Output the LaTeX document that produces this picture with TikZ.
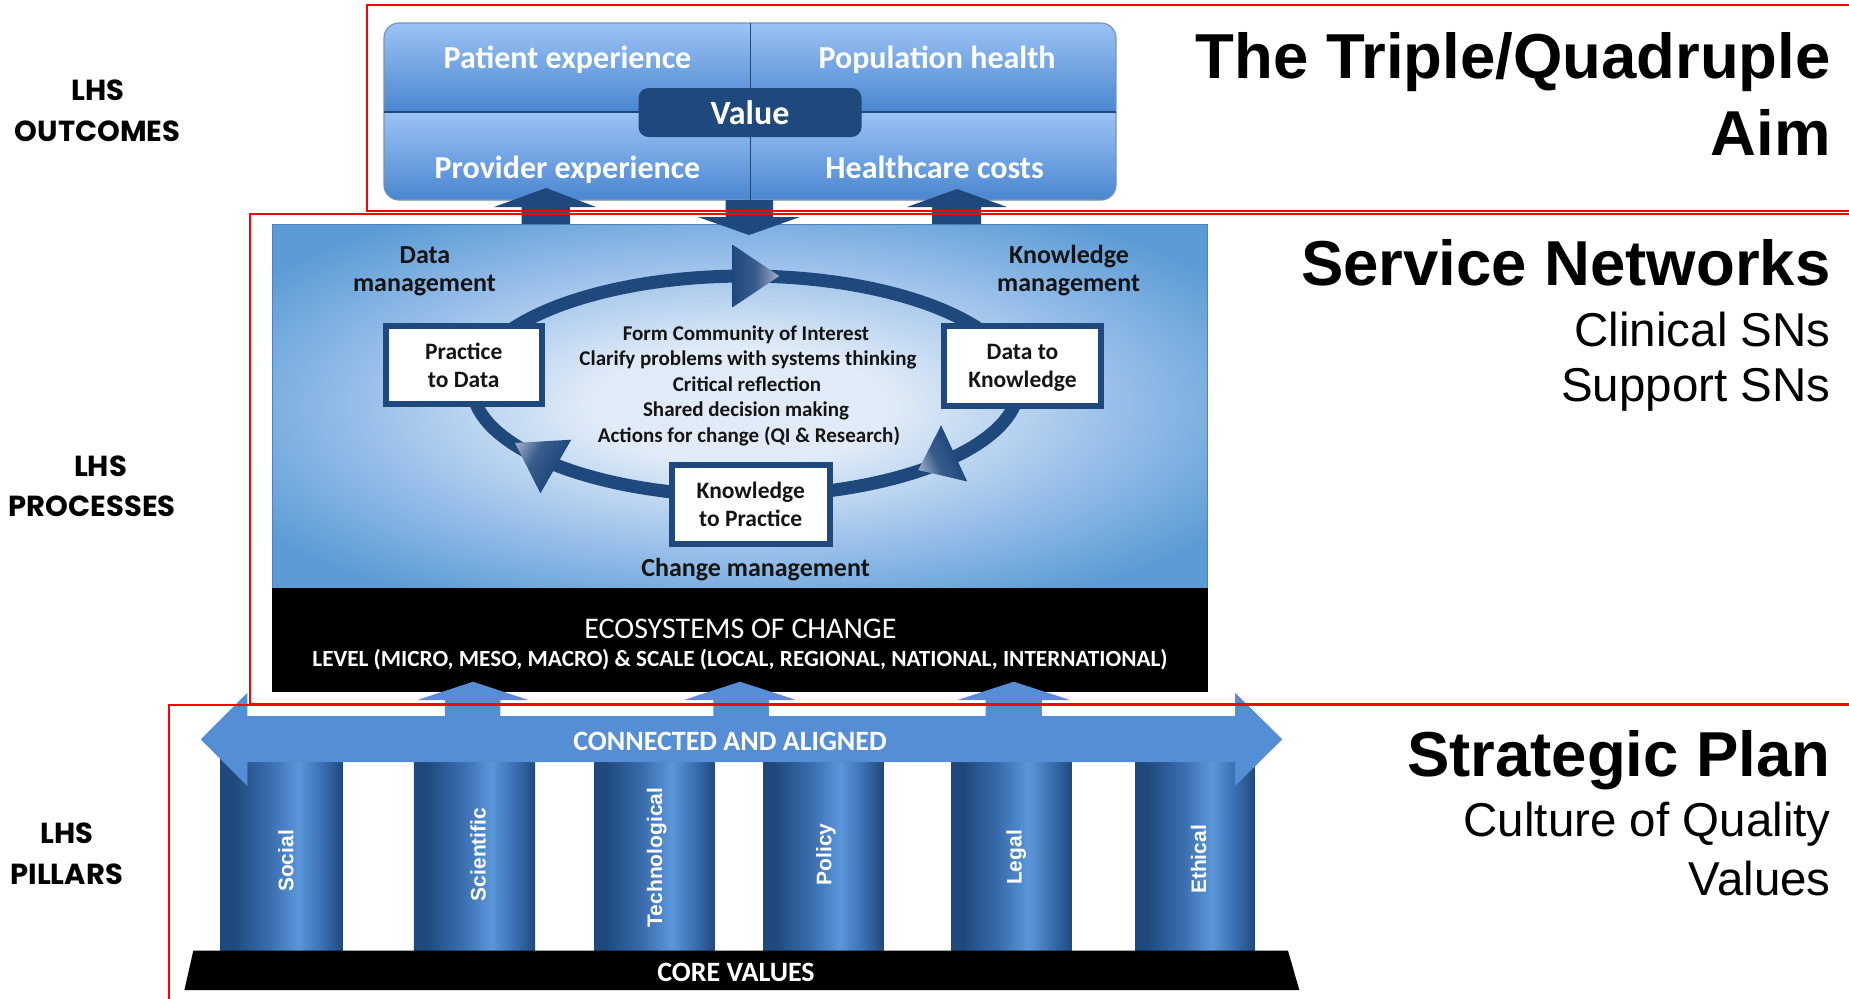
\documentclass[tikz,border=0pt]{standalone}
\usepackage{fontspec}
\setmainfont{Carlito}
\newfontfamily\arialf{Liberation Sans}
\newfontfamily\gothicf{Poppins}
\definecolor{dblue}{HTML}{1F497D}
\definecolor{mblue}{HTML}{558ED5}
\definecolor{tipc}{HTML}{A3B2C7}
\definecolor{plight}{HTML}{E0EBF7}
\definecolor{pmid}{HTML}{93BCE8}
\definecolor{pedge}{HTML}{5B9BD5}
\definecolor{otop}{HTML}{9CC3F5}
\definecolor{obot}{HTML}{4A86D0}
\definecolor{pillight}{HTML}{5B97DA}
\definecolor{pilmid}{HTML}{3A6DAE}
\definecolor{txt}{HTML}{141414}
\definecolor{redc}{HTML}{FF0000}
\definecolor{pborder}{HTML}{4F81BD}

\pgfdeclareradialshading{panelshade}{\pgfpoint{0bp}{0bp}}{color(0bp)=(plight); color(8bp)=(plight); color(21bp)=(pmid); color(31bp)=(pedge); color(50bp)=(pedge)}
\pgfdeclarehorizontalshading{pillarshade}{100bp}{color(0bp)=(dblue); color(30bp)=(dblue); color(45bp)=(pilmid); color(57bp)=(pillight); color(67bp)=(pilmid); color(75bp)=(dblue); color(100bp)=(dblue)}

\tikzset{
  outtext/.style={anchor=base, inner sep=0pt, text=white, font=\bfseries\fontsize{16}{19}\selectfont},
  valuebox/.style={fill=dblue, rounded corners=5pt, inner sep=0pt, text=white, font=\bfseries\fontsize{17}{20}\selectfont},
  sidelabel/.style={anchor=base, inner sep=0pt, text=black, font=\gothicf\bfseries\fontsize{14.5}{17}\selectfont},
  bigtitle/.style={anchor=base east, inner sep=0pt, text=black, font=\arialf\bfseries\fontsize{31.75}{38}\selectfont},
  subtitle/.style={anchor=base east, inner sep=0pt, text=black, font=\arialf\fontsize{23.75}{28}\selectfont},
  panellabel/.style={anchor=base, inner sep=0pt, text=txt, font=\bfseries\fontsize{13}{15}\selectfont},
  centertext/.style={anchor=base, inner sep=0pt, text=txt, font=\bfseries\fontsize{10.5}{12.8}\selectfont},
  cyclebox/.style={draw=dblue, line width=3pt, fill=white, inner sep=0pt, align=center, text=txt, font=\bfseries\fontsize{11.75}{14}\selectfont, text depth=0pt},
  ecotext/.style={anchor=base, inner sep=0pt, text=white},
  whitebold/.style={anchor=base, inner sep=0pt, text=white, font=\bfseries\fontsize{14}{16}\selectfont},
  pillartext/.style={rotate=90, inner sep=0pt, text=white, font=\arialf\bfseries\fontsize{10.5}{12}\selectfont},
  darkarrow/.style={fill=dblue},
  bluearrow/.style={fill=mblue},
  redframe/.style={draw=redc, line width=1pt},
  ringhead/.style={left color=dblue, right color=tipc, middle color=dblue!80!tipc}
}

\begin{document}
\begin{tikzpicture}[x=0.5pt,y=-0.5pt]
\fill[white] (0,0) rectangle (1849,998);
\useasboundingbox (0,0) rectangle (1849,998);

% ---------- outcomes box ----------
\begin{scope}
\clip[rounded corners=7.5pt] (384,23) rectangle (1116,200);
\shade[top color=otop,bottom color=obot] (384,23) rectangle (1116,112);
\shade[top color=otop,bottom color=obot] (384,112) rectangle (1116,200);
\end{scope}
\draw[line width=0.6pt, draw=dblue!60, rounded corners=7.5pt] (384,23) rectangle (1116,200);
\draw[line width=0.6pt, dblue] (750.5,23) -- (750.5,200);
\draw[line width=0.6pt, dblue] (384,112) -- (1116,112);
\node[valuebox, minimum width=111.5pt, minimum height=24.5pt] (value) at (750,112.5) {Value};
\node[outtext] (patexp) at (567.5,68.3) {Patient experience};
\node[outtext] (pophealth) at (937,68.3) {Population health};
\node[outtext] (provexp) at (567.5,178) {Provider experience};
\node[outtext] (hccost) at (934.6,178) {Healthcare costs};

% ---------- processes panel ----------
\shade[shading=panelshade] (272,224) rectangle (1207.5,588);
\draw[pborder, line width=0.5pt] (272,224) rectangle (1207.5,588);
\fill[black] (272,588) rectangle (1207.5,692);

% arrows between outcomes and processes
\fill[darkarrow] (521.7,224) -- (521.7,207) -- (494,207) -- (546,188) -- (596,207) -- (570,207) -- (570,224) -- cycle;
\fill[darkarrow] (725.7,200) -- (773,200) -- (773,217) -- (800,217) -- (749,235) -- (698,217) -- (725.7,217) -- cycle;
\fill[darkarrow] (932,224) -- (932,207) -- (907,207) -- (957,189) -- (1007,207) -- (981,207) -- (981,224) -- cycle;

% cycle ring
\draw[dblue, line width=6.5pt] (745.5,386) ellipse [x radius=273, y radius=110];
\begin{scope}[transform canvas={shift={(779.3,276)}, rotate=0}]
  \shade[ringhead] (0,0) -- (-46.6,31.15) -- (-46.6,-31.15) -- cycle;
\end{scope}
\begin{scope}[transform canvas={shift={(515,443)}, rotate=150.1}]
  \shade[ringhead] (0,0) -- (-47.1,30.9) -- (-47.1,-30.9) -- cycle;
\end{scope}
\begin{scope}[transform canvas={shift={(918.3,470)}, rotate=204.9}]
  \shade[ringhead] (0,0) -- (-39.5,31) -- (-39.5,-31) -- cycle;
\end{scope}

\node[cyclebox, minimum width=78.25pt, minimum height=39pt] (p2d) at (463.75,365) {Practice\\to Data};
\node[cyclebox, minimum width=78.5pt, minimum height=40pt] (d2k) at (1022.5,366) {Data to\\Knowledge};
\node[cyclebox, minimum width=78.75pt, minimum height=39.5pt] (k2p) at (750.75,504.5) {Knowledge\\to Practice};

\node[centertext] (c1) at (746,340) {Form Community of Interest};
\node[centertext] (c2) at (748,365.3) {Clarify problems with systems thinking};
\node[centertext] (c3) at (747,391.2) {Critical reflection};
\node[centertext] (c4) at (746,416.7) {Shared decision making};
\node[centertext] (c5) at (749,442.7) {Actions for change (QI \& Research)};

\node[panellabel] (dm1) at (425,263.3) {Data};
\node[panellabel] (dm2) at (424.5,291.7) {management};
\node[panellabel] (km1) at (1069,263.3) {Knowledge};
\node[panellabel] (km2) at (1068.6,291.7) {management};
\node[panellabel] (cm) at (755.6,576) {Change management};

\node[ecotext, font=\fontsize{15}{17}\selectfont] (eco1) at (740.5,638.3) {ECOSYSTEMS OF CHANGE};
\node[ecotext, font=\bfseries\fontsize{11.6}{13}\selectfont] (eco2) at (740,666.7) {LEVEL (MICRO, MESO, MACRO) \& SCALE (LOCAL, REGIONAL, NATIONAL, INTERNATIONAL)};

% ---------- pillars ----------
\foreach \l/\r in {220.7/342.7, 413.8/535.1, 594.3/714.9, 763/883.5, 951.6/1071.4, 1135/1254.9}
  \shade[shading=pillarshade] (\l,745) rectangle (\r,951);

\fill[bluearrow] (200.7,739.3) -- (247.3,692.7) -- (247.3,716) -- (1235,716) -- (1235,692.7) -- (1282.3,739.3) -- (1235,786) -- (1235,762) -- (247.3,762) -- (247.3,786) -- cycle;
\foreach \sl/\sr/\hl/\hr in {444.8/500.3/417.5/528.4, 713.4/768.9/683.8/796.2, 985.6/1041.9/957.5/1070}
  \fill[bluearrow] (\sl,717) -- (\sl,700) -- (\hl,700) -- ({(\hl+\hr)/2},681.7) -- (\hr,700) -- (\sr,700) -- (\sr,717) -- cycle;

\fill[black] (193.3,950.7) -- (1288,950.7) -- (1299.3,990) -- (184.4,990) -- cycle;

\node[whitebold] (connected) at (730,750.7) {CONNECTED AND ALIGNED};
\node[whitebold] (core) at (736,981.7) {CORE VALUES};

\node[pillartext] (social) at (285.8,861) {Social};
\node[pillartext] (scientific) at (478,854.4) {Scientific};
\node[pillartext] (technological) at (656.8,857.5) {Technological};
\node[pillartext] (policy) at (826,854.4) {Policy};
\node[pillartext] (legal) at (1016.3,857.5) {Legal};
\node[pillartext] (ethical) at (1198.5,859.5) {Ethical};

% ---------- right titles ----------
\node[bigtitle] (t1) at (1831,78.3) {The Triple/Quadruple};
\node[bigtitle] (t2) at (1831,155) {Aim};
\node[bigtitle] (t3) at (1831,285) {Service Networks};
\node[subtitle] (t4) at (1831,346.7) {Clinical SNs};
\node[subtitle] (t5) at (1831,401.7) {Support SNs};
\node[bigtitle] (t6) at (1831,776.7) {Strategic Plan};
\node[subtitle] (t7) at (1831,836.7) {Culture of Quality};
\node[subtitle] (t8) at (1831,895) {Values};

% ---------- left labels ----------
\node[sidelabel] (l1a) at (98,100.6) {LHS};
\node[sidelabel] (l1b) at (97.5,141.3) {OUTCOMES};
\node[sidelabel] (l2a) at (100.5,476) {LHS};
\node[sidelabel] (l2b) at (92.2,516.8) {PROCESSES};
\node[sidelabel] (l3a) at (66.7,843) {LHS};
\node[sidelabel] (l3b) at (66.7,884.7) {PILLARS};

% ---------- red frames ----------
\draw[redframe] (1860,5) -- (367,5) -- (367,211) -- (1860,211);
\draw[redframe] (1860,213.5) -- (249.5,213.5) -- (249.5,703.5) -- (1860,703.5);
\draw[redframe] (1860,704.5) -- (169,704.5) -- (169,1010);
\end{tikzpicture}
\end{document}
